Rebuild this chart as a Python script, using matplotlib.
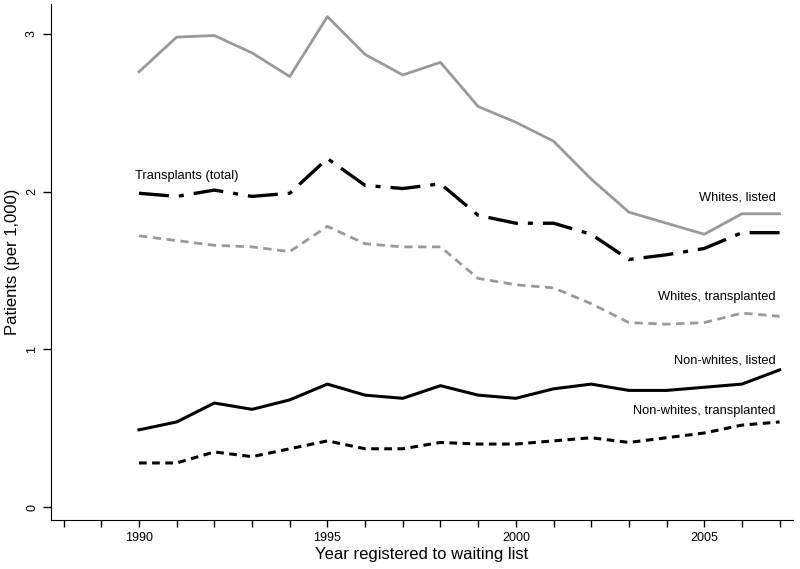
import matplotlib
matplotlib.use('Agg')
import matplotlib.pyplot as plt

plt.rcParams['font.family'] = ['Liberation Sans', 'DejaVu Sans']

years = list(range(1990, 2008))

whites_listed = [2.76, 2.98, 2.99, 2.88, 2.73, 3.11, 2.87, 2.74, 2.82, 2.54,
                 2.44, 2.32, 2.08, 1.87, 1.80, 1.73, 1.86, 1.86]
transplants_total = [1.99, 1.97, 2.01, 1.97, 1.99, 2.21, 2.04, 2.02, 2.05, 1.85,
                     1.80, 1.80, 1.73, 1.57, 1.60, 1.64, 1.74, 1.74]
whites_transpl = [1.72, 1.69, 1.66, 1.65, 1.62, 1.78, 1.67, 1.65, 1.65, 1.45,
                  1.41, 1.39, 1.29, 1.17, 1.16, 1.17, 1.23, 1.21]
nonwhites_listed = [0.49, 0.54, 0.66, 0.62, 0.68, 0.78, 0.71, 0.69, 0.77, 0.71,
                    0.69, 0.75, 0.78, 0.74, 0.74, 0.76, 0.78, 0.87]
nonwhites_transpl = [0.28, 0.28, 0.35, 0.32, 0.37, 0.42, 0.37, 0.37, 0.41, 0.40,
                     0.40, 0.42, 0.44, 0.41, 0.44, 0.47, 0.52, 0.54]

fig = plt.figure(figsize=(8, 5.69), dpi=100)
ax = fig.add_axes([0.064, 0.086, 0.927, 0.907])

grey = '#999999'
ax.plot(years, whites_listed, color=grey, lw=2.0)
ax.plot(years, transplants_total, color='black', lw=2.4, dashes=(9, 3, 1.5, 3))
ax.plot(years, whites_transpl, color=grey, lw=2.0, dashes=(3, 2))
ax.plot(years, nonwhites_listed, color='black', lw=2.2)
ax.plot(years, nonwhites_transpl, color='black', lw=2.2, dashes=(2.5, 1.8))

fs = 9.3
ax.text(1989.9, 2.06, 'Transplants (total)', fontsize=fs, ha='left', va='bottom')
ax.text(2006.9, 1.96, 'Whites, listed', fontsize=fs, ha='right', va='center')
ax.text(2006.9, 1.33, 'Whites, transplanted', fontsize=fs, ha='right', va='center')
ax.text(2006.9, 0.93, 'Non-whites, listed', fontsize=fs, ha='right', va='center')
ax.text(2006.9, 0.61, 'Non-whites, transplanted', fontsize=fs, ha='right', va='center')

ax.set_xlim(1987.67, 2007.35)
ax.set_ylim(-0.082, 3.19)
ax.set_xticks([1990, 1995, 2000, 2005])
ax.set_xticks(range(1988, 2008), minor=True)
ax.set_yticks([0, 1, 2, 3])
ax.tick_params(axis='x', which='both', length=5, width=1, labelsize=9)
ax.tick_params(axis='y', length=6, width=1, labelsize=9, labelrotation=90)
for lab in ax.get_yticklabels():
    lab.set_va('center')

ax.spines['top'].set_visible(False)
ax.spines['right'].set_visible(False)
ax.set_xlabel('Year registered to waiting list', fontsize=12, labelpad=2)
ax.set_ylabel('Patients (per 1,000)', fontsize=12, labelpad=4)

fig.savefig('out.png', dpi=100)
